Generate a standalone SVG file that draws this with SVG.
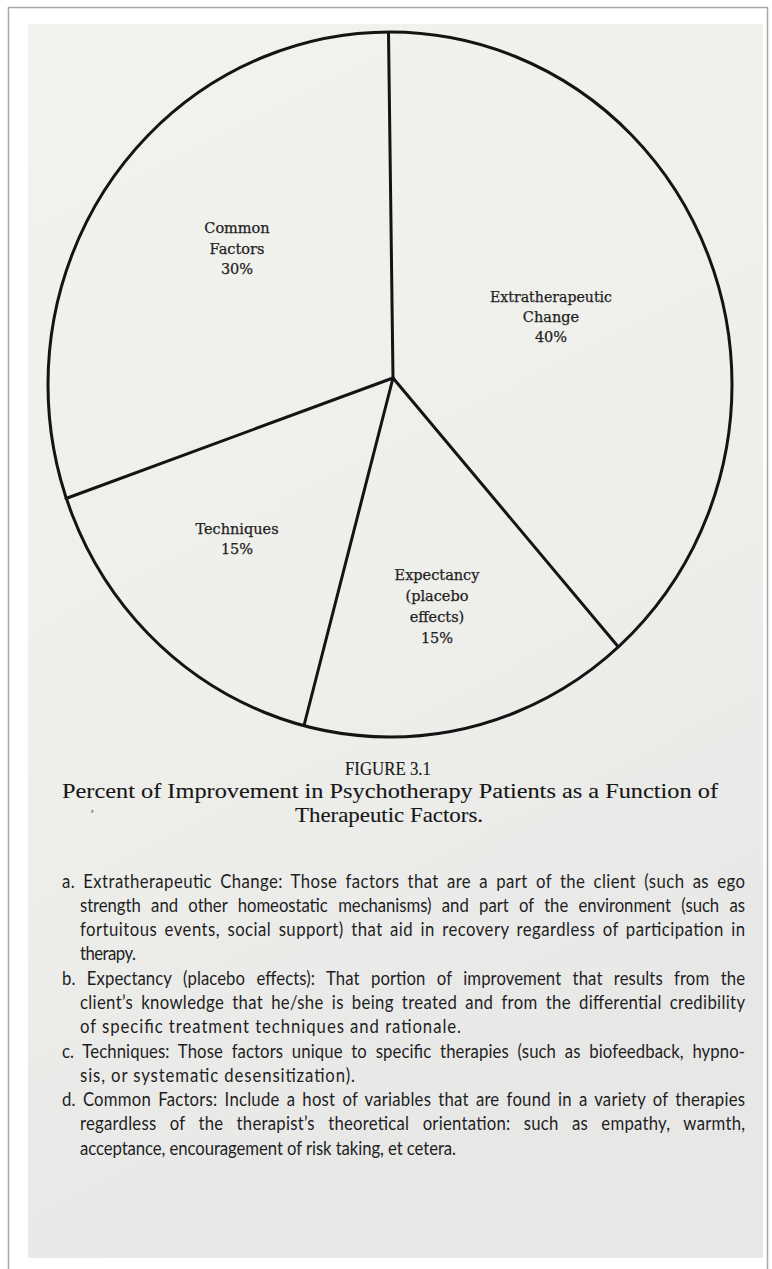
<svg xmlns="http://www.w3.org/2000/svg" width="772" height="1269" viewBox="0 0 772 1269">
  <style>
    .pie-line { fill: none; stroke: #141414; stroke-width: 3; stroke-linecap: round; }
    .slice-label { font-family: "DejaVu Serif", "Liberation Serif", serif; font-size: 14.5px; fill: #222; stroke: #222; stroke-width: 0.25; text-anchor: middle; }
    .caption { font-family: "Liberation Serif", "DejaVu Serif", serif; fill: #161616; stroke: #161616; stroke-width: 0.12; }
    .body { font-family: Lato, "Open Sans", "Liberation Sans", sans-serif; font-size: 19px; fill: #1e1e1e; }
  </style>
  <defs>
    <linearGradient id="paper" x1="0" y1="0" x2="0.3" y2="1">
      <stop offset="0" stop-color="#f2f2ee"/>
      <stop offset="0.6" stop-color="#eeeeeb"/>
      <stop offset="1" stop-color="#e7e7e6"/>
    </linearGradient>
  </defs>

  <!-- frame and page -->
  <rect x="0" y="0" width="772" height="1269" fill="#ffffff"/>
  <path d="M8.5 1269 V7.5 H767.5 V1269" fill="none" stroke="#a8a8a8" stroke-width="1.5"/>
  <rect x="28" y="24" width="735" height="1234" fill="url(#paper)"/>

  <!-- pie outline and slice boundaries -->
  <g id="connectors">
    <ellipse class="pie-line" cx="390" cy="384.5" rx="342" ry="352.5"/>
    <line class="pie-line" x1="393" y1="378" x2="388.5" y2="32.5"/>
    <line class="pie-line" x1="393" y1="378" x2="66" y2="498.5"/>
    <line class="pie-line" x1="393" y1="378" x2="304" y2="725.5"/>
    <line class="pie-line" x1="393" y1="378" x2="618" y2="646.5"/>
  </g>

  <!-- slice labels -->
  <g id="common-factors">
    <text class="slice-label" x="237" y="233">Common</text>
    <text class="slice-label" x="237" y="254">Factors</text>
    <text class="slice-label" x="237" y="274">30%</text>
  </g>
  <g id="extratherapeutic-change">
    <text class="slice-label" x="551" y="302" textLength="122" lengthAdjust="spacingAndGlyphs">Extratherapeutic</text>
    <text class="slice-label" x="551" y="322">Change</text>
    <text class="slice-label" x="551" y="342">40%</text>
  </g>
  <g id="techniques">
    <text class="slice-label" x="237" y="534">Techniques</text>
    <text class="slice-label" x="237" y="554">15%</text>
  </g>
  <g id="expectancy">
    <text class="slice-label" x="437" y="580">Expectancy</text>
    <text class="slice-label" x="437" y="601">(placebo</text>
    <text class="slice-label" x="437" y="622">effects)</text>
    <text class="slice-label" x="437" y="643">15%</text>
  </g>

  <!-- figure caption -->
  <g id="caption">
    <text class="caption" x="345" y="775" font-size="18" textLength="86" lengthAdjust="spacingAndGlyphs">FIGURE 3.1</text>
    <text class="caption" x="62" y="798" font-size="22" textLength="656" lengthAdjust="spacingAndGlyphs">Percent of Improvement in Psychotherapy Patients as a Function of</text>
    <text class="caption" x="295" y="822" font-size="22" textLength="188" lengthAdjust="spacingAndGlyphs">Therapeutic Factors.</text>
    <text x="90" y="818" font-family="Liberation Serif, serif" font-size="13" fill="#555">’</text>
  </g>

  <!-- definitions: condensed face; justified lines widen their word gaps -->
  <g id="definitions" class="body" transform="scale(0.88 1)">
    <text x="70.45" y="888" word-spacing="4" textLength="776.1" lengthAdjust="spacing">a. Extratherapeutic Change: Those factors that are a part of the client (such as ego</text>
    <text x="90.9" y="912" word-spacing="7" textLength="755.7" lengthAdjust="spacing">strength and other homeostatic mechanisms) and part of the environment (such as</text>
    <text x="90.9" y="936" word-spacing="3" textLength="755.7" lengthAdjust="spacing">fortuitous events, social support) that aid in recovery regardless of participation in</text>
    <text x="90.9" y="960" textLength="63.6" lengthAdjust="spacing">therapy.</text>
    <text x="70.45" y="985" word-spacing="8" textLength="776.1" lengthAdjust="spacing">b. Expectancy (placebo effects): That portion of improvement that results from the</text>
    <text x="90.9" y="1009" word-spacing="4" textLength="755.7" lengthAdjust="spacing">client’s knowledge that he/she is being treated and from the differential credibility</text>
    <text x="90.9" y="1033" textLength="433" lengthAdjust="spacing">of specific treatment techniques and rationale.</text>
    <text x="70.45" y="1058" word-spacing="5" textLength="776.1" lengthAdjust="spacing">c. Techniques: Those factors unique to specific therapies (such as biofeedback, hypno-</text>
    <text x="90.9" y="1082" textLength="312.5" lengthAdjust="spacing">sis, or systematic desensitization).</text>
    <text x="70.45" y="1106" word-spacing="3" textLength="776.1" lengthAdjust="spacing">d. Common Factors: Include a host of variables that are found in a variety of therapies</text>
    <text x="90.9" y="1130" word-spacing="10" textLength="755.7" lengthAdjust="spacing">regardless of the therapist’s theoretical orientation: such as empathy, warmth,</text>
    <text x="90.9" y="1155" textLength="427.3" lengthAdjust="spacing">acceptance, encouragement of risk taking, et cetera.</text>
  </g>
</svg>
